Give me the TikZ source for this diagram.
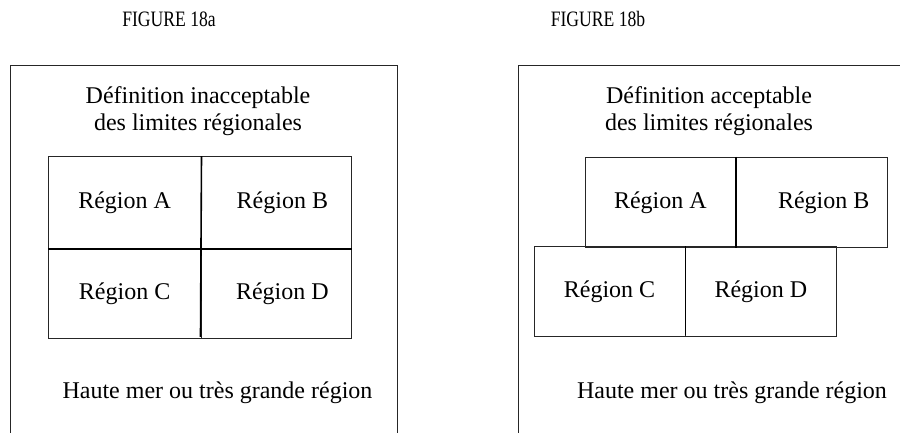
\documentclass[tikz,border=0pt]{standalone}
\usepackage{fontspec}
\setmainfont{Liberation Serif}
\begin{document}
\begin{tikzpicture}[x=1pt,y=-1pt,
  txt/.style={font=\fontsize{24}{28}\selectfont, inner sep=0pt, anchor=base},
  ttl/.style={font=\fontsize{22}{26}\selectfont, inner sep=0pt, anchor=base},
  frame/.style={draw=black!85, line width=1pt},
  reg/.style={draw=black!85, line width=1pt, rectangle, inner sep=0pt, font=\fontsize{24}{28}\selectfont},
  mid/.style={draw=black, line width=1.6pt}]
\useasboundingbox (0,0) rectangle (900,432);
% titles
\node[ttl] (t1) at (169,26) {\scalebox{0.8}[1]{FIGURE 18a}};
\node[ttl] (t2) at (598,26) {\scalebox{0.8}[1]{FIGURE 18b}};
% frames
\draw[frame] (10,440) -- (10,65) -- (397,65) -- (397,440);
\draw[frame] (518,440) -- (518,65) -- (910,65);
% headings
\node[txt] (h1a) at (198,103) {Définition inacceptable};
\node[txt] (h1b) at (198,130) {des limites régionales};
\node[txt] (h2a) at (709,103) {Définition acceptable};
\node[txt] (h2b) at (709,130) {des limites régionales};
% figure 18a regions
\node[reg, minimum width=152.7pt, minimum height=91.6pt] (aA) at (124.65,202.5) {Région A};
\node[reg, minimum width=150.7pt, minimum height=91.6pt] (aB) at (276.35,202.5) {\hspace{12pt}Région B};
\node[reg, minimum width=152.7pt, minimum height=90pt] (aC) at (124.65,293.3) {Région C};
\node[reg, minimum width=150.7pt, minimum height=90pt] (aD) at (276.35,293.3) {\hspace{12pt}Région D};
\draw[mid] (aA.north east) -- ([yshift=2pt]aD.south west);
\draw[mid] (aA.south west) -- (aB.south east);
% figure 18b regions
\node[reg, minimum width=150.7pt, minimum height=90pt] (bA) at (660.35,202.3) {Région A};
\node[reg, minimum width=152pt, minimum height=90pt] (bB) at (811.7,202.3) {\hspace{24pt}Région B};
\node[reg, minimum width=151pt, minimum height=90pt] (bC) at (609.5,291.7) {Région C};
\node[reg, minimum width=151.7pt, minimum height=90pt] (bD) at (760.85,291.7) {Région D};
\draw[mid] (bA.north east) -- (bA.south east);
\draw[mid] (bC.north east) -- ([yshift=2pt]bC.south east);
% bottom texts
\node[txt] (s1) at (217.5,398) {Haute mer ou très grande région};
\node[txt] (s2) at (732,398) {Haute mer ou très grande région};
\end{tikzpicture}
\end{document}
